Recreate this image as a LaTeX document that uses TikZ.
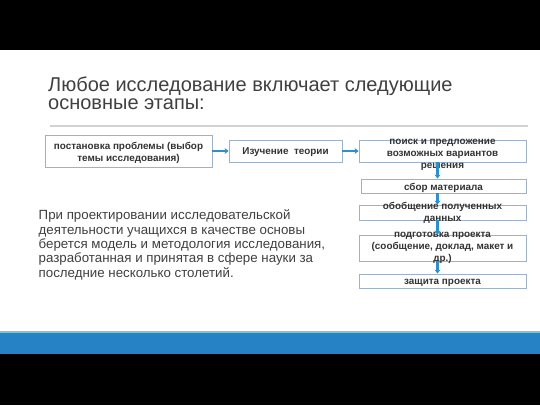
\documentclass[tikz,border=0pt]{standalone}
\usepackage{fontspec}
\setmainfont{Liberation Sans}
\usepackage{xcolor}
\usepackage{tikz}
\usetikzlibrary{arrows.meta}
\definecolor{band}{HTML}{000000}
\definecolor{barblue}{HTML}{2682C4}
\definecolor{barlight}{HTML}{6EC8F0}
\definecolor{rule}{HTML}{D2D2D2}
\definecolor{ink}{HTML}{404040}
\definecolor{boxink}{HTML}{333333}
\definecolor{boxline}{HTML}{9DB2C6}
\definecolor{flow}{HTML}{2F8FC8}
\tikzset{
  stepbox/.style={draw=boxline, fill=white, line width=0.9pt, inner sep=0pt},
  stepText/.style={text=boxink, font=\fontsize{9.9}{12}\selectfont\bfseries, align=center, inner sep=0pt},
  flowArr/.style={draw=flow, line width=2.6pt, -{Stealth[length=4pt,width=6pt]}},
  titleLbl/.style={text=ink, font=\fontsize{20}{18.5}\selectfont, align=left, inner sep=0pt},
  bodyLbl/.style={text=ink, font=\fontsize{13.3}{14.4}\selectfont, align=left, inner sep=0pt},
}

\begin{document}
\begin{tikzpicture}[x=1pt, y=-1pt]
  \useasboundingbox (0,0) rectangle (540,405);
  % slide background
  \fill[white] (0,0) rectangle (540,405);
  \fill[band] (0,0) rectangle (540,50);
  \fill[band] (0,354) rectangle (540,405);
  \fill[barblue] (0,331) rectangle (540,354);
  \fill[barlight] (0,330.5) rectangle (540,332.5);
  \draw[draw=rule, line width=2pt] (50,126) -- (528,126);

  % base anchor sits on the last line
  \node[titleLbl, anchor=base west] (title) at (48,109.5)
    {Любое исследование включает следующие\\основные этапы:};

  \node[bodyLbl, anchor=base west] (body) at (38.5,277.2)
    {При проектировании исследовательской\\деятельности учащихся в качестве основы\\берется модель и методология исследования,\\разработанная и принятая в сфере науки за\\последние несколько столетий.};

  % boxes
  \node[stepbox, minimum width=167pt, minimum height=32pt] (s1) at (128.5,151) {};
  \node[stepbox, minimum width=113pt, minimum height=22pt] (s2) at (285.5,151) {};
  \node[stepbox, minimum width=167pt, minimum height=22pt] (s3) at (442.5,151) {};
  \node[stepbox, minimum width=165pt, minimum height=14pt] (s4) at (443.5,186) {};
  \node[stepbox, minimum width=167pt, minimum height=15pt] (s5) at (442.5,212.5) {};
  \node[stepbox, minimum width=167pt, minimum height=26pt] (s6) at (442.5,248) {};
  \node[stepbox, minimum width=167pt, minimum height=14pt] (s7) at (442.5,281) {};

  \node[stepText] (t1) at ([yshift=-1.5pt]s1.center) {постановка проблемы (выбор\\темы исследования)};
  \node[stepText] (t2) at ([yshift=-1.5pt]s2.center) {Изучение\ \ теории};
  \node[stepText] (t3) at ([yshift=-3.5pt]s3.center) {поиск и предложение\\возможных вариантов\\решения};
  \node[stepText] (t4) at ([yshift=-1.5pt]s4.center) {сбор материала};
  \node[stepText] (t5) at ([yshift=-0.5pt]s5.center) {обобщение полученных\\данных};
  \node[stepText] (t6) at ([yshift=0.5pt]s6.center) {подготовка проекта\\(сообщение, доклад, макет и\\др.)};
  \node[stepText] (t7) at ([yshift=-1.5pt]s7.center) {защита проекта};

  % arrows
  \draw[flowArr] (s1.east) -- (s2.west);
  \draw[flowArr] (s2.east) -- (s3.west);
  \draw[flowArr] ([xshift=-5pt]s3.south) -- ([xshift=-6pt]s4.north);
  \draw[flowArr] ([xshift=-6pt]s4.south) -- ([xshift=-5pt]s5.north);
  \draw[flowArr] ([xshift=-5pt]s5.south) -- ([xshift=-5pt]s6.north);
  \draw[flowArr] ([xshift=-5pt]s6.south) -- ([xshift=-5pt]s7.north);
\end{tikzpicture}
\end{document}
